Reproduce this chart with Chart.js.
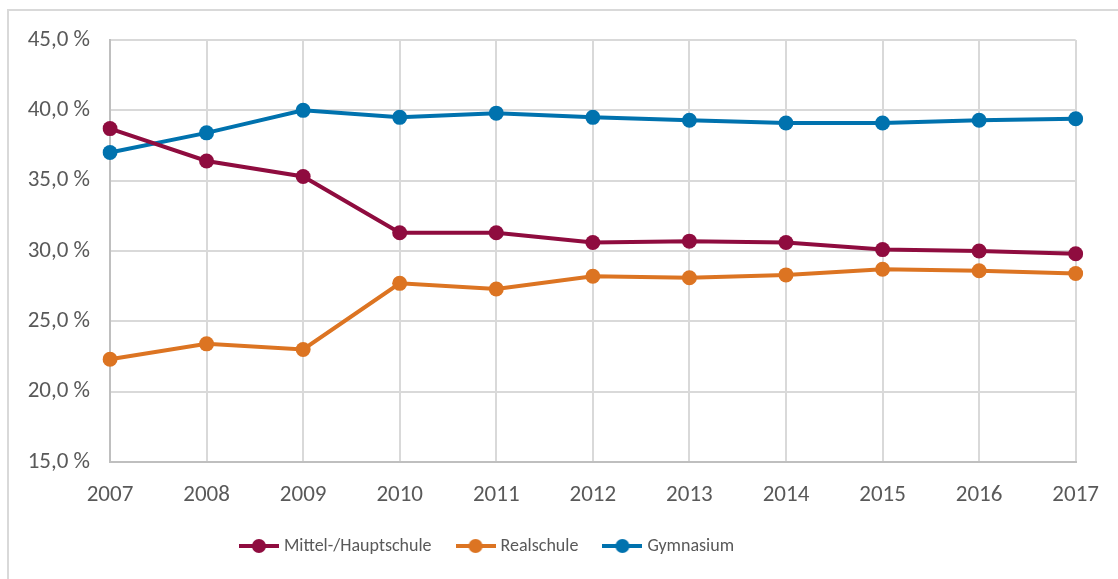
<!DOCTYPE html>
<html>
<head>
<meta charset="utf-8">
<script src="https://cdn.jsdelivr.net/npm/chart.js@4.4.1/dist/chart.umd.min.js"></script>
<style>
    html, body { margin: 0; padding: 0; background: #fff; overflow: hidden; }
    #frame { position: absolute; left: 7px; top: 9px; width: 1200px; height: 700px; border: 2px solid #d9d9d9; }
    #chart { position: absolute; left: 0; top: 0; }
</style>
</head>
<body>
<div id="frame"></div>
<canvas id="chart" width="1118" height="579"></canvas>
<script>
// Anteil der Schüler nach Schulart, 2007-2017
const years = ['2007', '2008', '2009', '2010', '2011', '2012', '2013', '2014', '2015', '2016', '2017'];
const mittelHaupt = [38.7, 36.4, 35.3, 31.3, 31.3, 30.6, 30.7, 30.6, 30.1, 30.0, 29.8];
const realschule = [22.3, 23.4, 23.0, 27.7, 27.3, 28.2, 28.1, 28.3, 28.7, 28.6, 28.4];
const gymnasium = [37.0, 38.4, 40.0, 39.5, 39.8, 39.5, 39.3, 39.1, 39.1, 39.3, 39.4];
const yTicks = [15, 20, 25, 30, 35, 40, 45];

const colors = {mittel: '#8f0c3f', real: '#dc7422', gym: '#0072ae'};
const fontFamily = 'Carlito, Lato, sans-serif';
const textColor = '#595959';

// small line+dot marker for the legend
function legendMarker(color) {
    const c = document.createElement('canvas');
    c.width = 40;
    c.height = 16;
    const g = c.getContext('2d');
    g.strokeStyle = color;
    g.lineWidth = 4;
    g.beginPath();
    g.moveTo(0, 8);
    g.lineTo(40, 8);
    g.stroke();
    g.fillStyle = color;
    g.beginPath();
    g.arc(20, 8, 7, 0, Math.PI * 2);
    g.fill();
    return c;
}

function series(label, data, color) {
    return {
        label: label,
        data: data,
        borderColor: color,
        backgroundColor: color,
        borderWidth: 4,
        pointRadius: 7.5,
        pointHoverRadius: 7.5,
        pointBorderWidth: 0,
        tension: 0,
        marker: legendMarker(color)
    };
}

// legend in the original sits left of centre
const legendShift = {
    id: 'legendShift',
    afterLayout(chart) {
        chart.legend.left -= 50;
        chart.legend.right -= 50;
    }
};

new Chart(document.getElementById('chart'), {
    type: 'line',
    data: {
        labels: years,
        datasets: [
            series('Mittel-/Hauptschule', mittelHaupt, colors.mittel),
            series('Realschule', realschule, colors.real),
            series('Gymnasium', gymnasium, colors.gym)
        ]
    },
    plugins: [legendShift],
    options: {
        responsive: false,
        animation: false,
        layout: {padding: {left: 0, right: 41, top: 40, bottom: 14}},
        plugins: {
            tooltip: {enabled: false},
            legend: {
                position: 'bottom',
                labels: {
                    usePointStyle: true,
                    pointStyleWidth: 32,
                    padding: 28,
                    color: textColor,
                    font: {family: fontFamily, size: 18},
                    generateLabels(chart) {
                        return chart.data.datasets.map((ds, i) => ({
                            text: ds.label,
                            datasetIndex: i,
                            fontColor: textColor,
                            pointStyle: ds.marker,
                            hidden: false,
                            lineWidth: 0
                        }));
                    }
                }
            }
        },
        scales: {
            x: {
                grid: {color: '#d9d9d9', lineWidth: 2, drawTicks: false},
                border: {color: '#bfbfbf', width: 2},
                ticks: {color: textColor, font: {family: fontFamily, size: 23}, padding: 19, maxRotation: 0},
                afterFit(scale) { scale.height = 47; }
            },
            y: {
                min: 15,
                max: 45,
                afterBuildTicks(scale) { scale.ticks = yTicks.map(v => ({value: v})); },
                grid: {color: '#d9d9d9', lineWidth: 2, drawTicks: false},
                border: {color: '#bfbfbf', width: 2},
                ticks: {
                    color: textColor,
                    font: {family: fontFamily, size: 23},
                    padding: 20,
                    callback: v => v.toFixed(1).replace('.', ',') + ' %'
                },
                afterFit(scale) { scale.width = 110; }
            }
        }
    }
});
</script>
</body>
</html>
